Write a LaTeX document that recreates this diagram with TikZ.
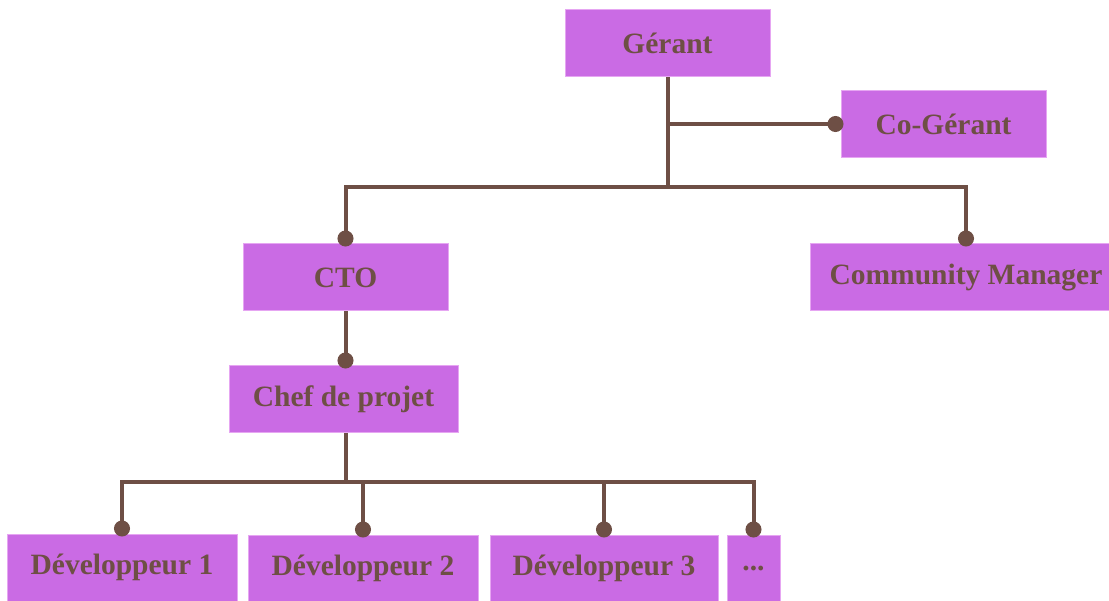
\documentclass[tikz,border=0pt]{standalone}
\usepackage{fontspec}
\setmainfont{Liberation Serif}
\usetikzlibrary{arrows.meta}
\definecolor{boxfill}{HTML}{CA6BE4}
\definecolor{boxedge}{HTML}{E6A6F2}
\definecolor{linkc}{HTML}{6E4F45}
\begin{document}
\begin{tikzpicture}[x=1pt,y=-1pt,
  role/.style={draw=boxedge, line width=1pt, fill=boxfill, text=linkc,
    font=\bfseries\fontsize{29.5}{33}\selectfont, inner sep=0pt,
    minimum height=67pt},
  conn/.style={draw=linkc, line width=4pt},
  dotted conn/.style={conn, -{Circle[length=16pt,width=16pt]}, shorten >=-3pt}]
\useasboundingbox (0,0) rectangle (1109,601);
\clip (0,0) rectangle (1109,601);
% boxes
\node[role, minimum width=205pt] (ger) at (667.5,43.5) {Gérant};
\node[role, minimum width=205pt] (cog) at (943.5,124) {Co-Gérant};
\node[role, minimum width=205pt] (cto) at (345.5,277.5) {CTO};
\node[role, minimum width=312pt] (cm) at (966,277.5) {Community Manager};
\node[role, minimum width=229pt] (chef) at (343.5,399.5) {Chef de projet};
\node[role, minimum width=230pt] (d1) at (122,567.5) {Développeur 1};
\node[role, minimum width=230pt] (d2) at (363,568.5) {Développeur 2};
\node[role, minimum width=228pt] (d3) at (604,568.5) {Développeur 3};
\node[role, minimum width=53pt] (dd) at (753.5,568.5) {...};
% junction points
\coordinate (busA) at (667.5,187);
\coordinate (busB) at (345.5,482);
% top level
\draw[conn] (ger.south) -- (busA);
\draw[dotted conn] (ger.south |- cog.west) -- (cog.west);
\draw[conn, line cap=rect] (busA -| cto.north) -- (busA -| cm.north);
\draw[dotted conn] (busA -| cto.north) -- (cto.north);
\draw[dotted conn] (busA -| cm.north) -- (cm.north);
% CTO branch
\draw[dotted conn] (cto.south) -- (cto.south |- chef.north);
\draw[conn] (busB |- chef.south) -- (busB);
\draw[conn, line cap=rect] (busB -| d1.north) -- (busB -| dd.north);
\draw[dotted conn] (busB -| d1.north) -- (d1.north);
\draw[dotted conn] (busB -| d2.north) -- (d2.north);
\draw[dotted conn] (busB -| d3.north) -- (d3.north);
\draw[dotted conn] (busB -| dd.north) -- (dd.north);
\end{tikzpicture}
\end{document}
